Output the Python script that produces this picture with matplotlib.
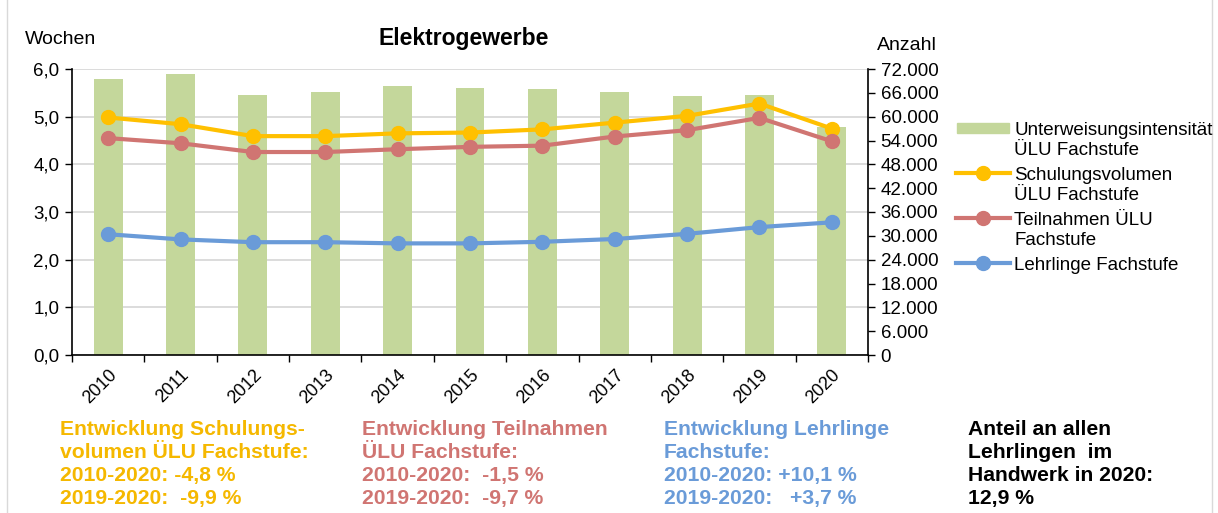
import numpy as np
import matplotlib
matplotlib.use("Agg")
import matplotlib.pyplot as plt
from matplotlib.ticker import FuncFormatter, FixedLocator
from matplotlib.patches import Rectangle
from matplotlib.lines import Line2D

plt.rcParams['font.family'] = ['Liberation Sans', 'DejaVu Sans']

# ==== Data ====
years = ['2010', '2011', '2012', '2013', '2014', '2015',
         '2016', '2017', '2018', '2019', '2020']
intensity = [5.80, 5.89, 5.46, 5.52, 5.64, 5.60, 5.58, 5.52, 5.43, 5.45, 4.79]
volume = [59800, 58100, 55100, 55100, 55800, 56000,
          56800, 58500, 60200, 63300, 57000]
participants = [54600, 53300, 51100, 51100, 51800, 52400,
                52700, 55000, 56600, 59700, 53800]
apprentices = [30400, 29100, 28400, 28400, 28100, 28100,
               28500, 29200, 30500, 32200, 33400]

legend_labels = [['Unterweisungsintensität', 'ÜLU Fachstufe'],
                 ['Schulungsvolumen', 'ÜLU Fachstufe'],
                 ['Teilnahmen ÜLU', 'Fachstufe'],
                 ['Lehrlinge Fachstufe']]

notes = ['Entwicklung Schulungs-\nvolumen ÜLU Fachstufe:\n2010-2020: -4,8 %\n2019-2020:  -9,9 %',
         'Entwicklung Teilnahmen\nÜLU Fachstufe:\n2010-2020:  -1,5 %\n2019-2020:  -9,7 %',
         'Entwicklung Lehrlinge\nFachstufe:\n2010-2020: +10,1 %\n2019-2020:   +3,7 %',
         'Anteil an allen\nLehrlingen  im\nHandwerk in 2020:\n12,9 %']

c_bar = '#C4D79B'
c_vol = '#FFC000'
c_part = '#D07572'
c_appr = '#6A9BD8'

W, H = 1218, 513
fig = plt.figure(figsize=(W/100, H/100), dpi=100)
ax = fig.add_axes([72/W, 1-355/H, (868-72)/W, (355-69)/H])
ax2 = ax.twinx()

x = np.arange(len(years))
ax.bar(x, intensity, width=0.4, color=c_bar, zorder=2)
ax.set_axisbelow(True)
ax.set_ylim(0, 6)
ax.set_yticks(np.arange(0, 6.01, 1))
ax.yaxis.set_major_formatter(FuncFormatter(lambda v, p: f'{v:.1f}'.replace('.', ',')))
ax.grid(axis='y', color='#D9D9D9', lw=1.3)
ax.set_xlim(-0.5, len(years) - 0.5)
ax.set_xticks(x)
ax.set_xticklabels(years, rotation=45, ha='right', rotation_mode='anchor')
ax.xaxis.set_minor_locator(FixedLocator(np.arange(-0.5, len(years), 1)))
ax.tick_params(axis='x', which='major', length=0, labelsize=13, pad=8)
ax.tick_params(axis='x', which='minor', length=5, width=1)
ax.tick_params(axis='y', length=5, width=1, labelsize=13.5, pad=4)
for s in ['top', 'right']:
    ax.spines[s].set_visible(False)
ax.spines['left'].set_linewidth(1.2)
ax.spines['bottom'].set_linewidth(1.2)

kw = dict(lw=3, marker='o', ms=10)
ax2.plot(x, volume, color=c_vol, **kw)
ax2.plot(x, participants, color=c_part, **kw)
ax2.plot(x, apprentices, color=c_appr, **kw)
ax2.set_ylim(0, 72000)
ax2.set_yticks(np.arange(0, 72001, 6000))
ax2.yaxis.set_major_formatter(FuncFormatter(lambda v, p: f'{int(v):,}'.replace(',', '.')))
ax2.tick_params(axis='y', length=5, width=1, labelsize=13.5, pad=4)
for s in ['top', 'left', 'bottom']:
    ax2.spines[s].set_visible(False)
ax2.spines['right'].set_linewidth(1.2)

# ==== Titles ====
fig.text(25/W, 1-40/H, 'Wochen', fontsize=14, va='center')
fig.text(464/W, 1-38/H, 'Elektrogewerbe', fontsize=16.5, weight='bold',
         ha='center', va='center')
fig.text(877/W, 1-45/H, 'Anzahl', fontsize=14, va='center')

# ==== Legend (drawn by hand, handle on first text line) ====
leg_y = [128, 173, 218, 263]
leg_colors = [c_bar, c_vol, c_part, c_appr]
for i, (lines, col, yc) in enumerate(zip(legend_labels, leg_colors, leg_y)):
    if i == 0:
        fig.add_artist(Rectangle((957/W, 1-(yc+5)/H), 52/W, 10/H,
                                 color=col, transform=fig.transFigure))
    else:
        fig.add_artist(Line2D([956/W, 1010/W], [1-yc/H, 1-yc/H], color=col,
                              transform=fig.transFigure, **dict(kw, markevery=[])))
        fig.add_artist(Line2D([983/W], [1-yc/H], color=col, marker='o', ms=10,
                              transform=fig.transFigure))
    for j, t in enumerate(lines):
        fig.text(1014/W, 1-(yc + 6.7 + 20.5*j)/H, t, fontsize=13.5,
                 va='baseline', ha='left')

# ==== Notes below chart ====
note_x = [60, 362, 664, 968]
note_c = ['#F5B800', c_part, c_appr, 'black']
for xp, col, txt in zip(note_x, note_c, notes):
    fig.text(xp/W, 1-420/H, txt, color=col, fontsize=15.2, weight='bold',
             va='top', ha='left', linespacing=1.27)

# chart border
for xb in [7, 1212]:
    fig.add_artist(Line2D([xb/W, xb/W], [0, 1], color='#D9D9D9', lw=1))

fig.savefig('out.png', dpi=100)
